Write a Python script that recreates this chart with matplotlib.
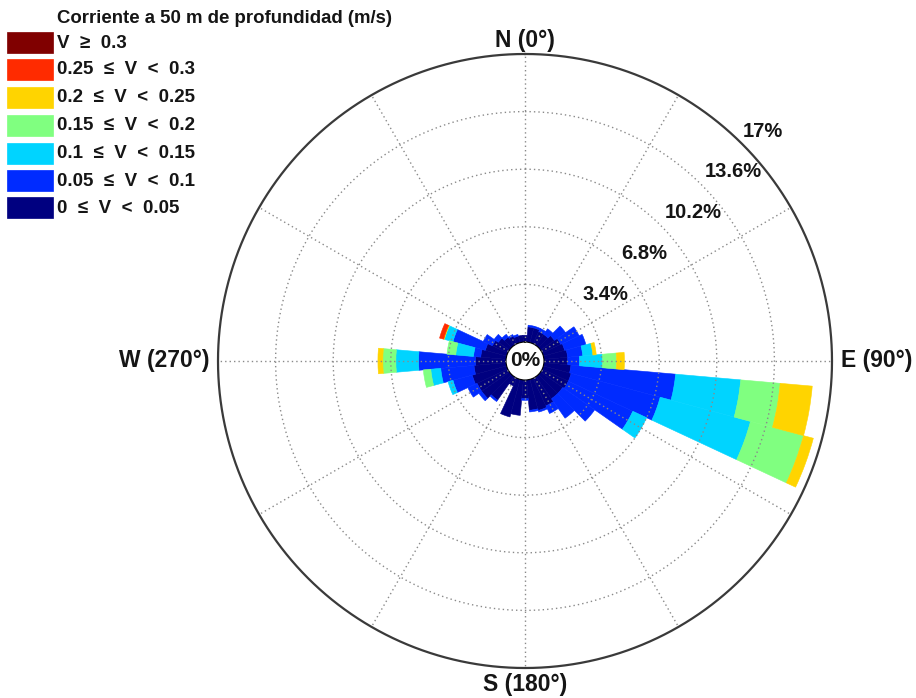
import numpy as np
import matplotlib
matplotlib.use("Agg")
import matplotlib.pyplot as plt
from matplotlib.patches import Rectangle

plt.rcParams['font.family'] = ['Liberation Sans', 'DejaVu Sans']

# ---------------- data ----------------
directions = np.arange(0, 360, 10)  # sector centres (deg, clockwise from N)

# frequency (%) per speed class and direction
v_000_005 = [0.4, 0.9, 0.9, 0.8, 0.8, 1.0, 1.2, 1.3, 1.4, 1.4, 1.6, 1.7,
             1.7, 1.6, 1.6, 1.8, 1.9, 1.8, 1.1, 2.1, 2.3, 0.5, 1.7, 2.0,
             2.0, 2.1, 1.9, 1.8, 1.5, 1.3, 1.0, 0.8, 0.6, 0.5, 0.4, 0.4]
v_005_010 = [0.0, 0.1, 0.1, 0.2, 0.4, 0.8, 1.2, 1.3, 0.9, 0.7, 6.2, 5.44,
             4.2, 2.3, 1.4, 0.5, 0.1, 0.1, 0.1, 0.0, 0.0, 0.0, 0.1, 0.2,
             0.6, 1.18, 1.97, 3.36, 0.43, 1.98, 0.6, 0.3, 0.2, 0.1, 0.1, 0.0]
v_010_015 = [0, 0, 0, 0, 0, 0, 0, 0, 0.6, 1.36, 3.86, 5.52,
             0.9, 0, 0, 0, 0, 0, 0, 0, 0, 0, 0, 0,
             0, 0.3, 0.59, 1.34, 1.05, 0.52, 0, 0, 0, 0, 0, 0]
v_015_020 = [0, 0, 0, 0, 0, 0, 0, 0, 0.0, 0.82, 2.34, 3.24,
             0, 0, 0, 0, 0, 0, 0, 0, 0, 0, 0, 0,
             0, 0, 0.44, 0.77, 0.52, 0.02, 0, 0, 0, 0, 0, 0]
v_020_025 = [0, 0, 0, 0, 0, 0, 0, 0, 0.2, 0.47, 1.9, 0.6,
             0, 0, 0, 0, 0, 0, 0, 0, 0, 0, 0, 0,
             0, 0, 0, 0.29, 0, 0.03, 0, 0, 0, 0, 0, 0]
v_025_030 = [0, 0, 0, 0, 0, 0, 0, 0, 0, 0, 0, 0,
             0, 0, 0, 0, 0, 0, 0, 0, 0, 0, 0, 0,
             0, 0, 0, 0, 0, 0.25, 0, 0, 0, 0, 0, 0]
v_030_up = [0] * 36

class_labels = ["0  \u2264  V  <  0.05", "0.05  \u2264  V  <  0.1", "0.1  \u2264  V  <  0.15",
                "0.15  \u2264  V  <  0.2", "0.2  \u2264  V  <  0.25", "0.25  \u2264  V  <  0.3",
                "V  \u2265  0.3"]
ring_values = [3.4, 6.8, 10.2, 13.6, 17]
ring_labels = ["3.4%", "6.8%", "10.2%", "13.6%", "17%"]
dir_labels = ["N (0\u00b0)", "E (90\u00b0)", "S (180\u00b0)", "W (270\u00b0)"]
title = "Corriente a 50 m de profundidad (m/s)"

series = [v_000_005, v_005_010, v_010_015, v_015_020, v_020_025, v_025_030, v_030_up]
colors = [(0.0, 0.0, 0.5), (0.0, 0.17, 1.0), (0.0, 0.83, 1.0), (0.5, 1.0, 0.5),
          (1.0, 0.83, 0.0), (1.0, 0.17, 0.0), (0.5, 0.0, 0.0)]

# ---------------- figure ----------------
W, H = 916, 698
fig = plt.figure(figsize=(W / 100, H / 100), dpi=100)
cx, cy, R = 525, 361, 307
ax = fig.add_axes([(cx - R) / W, (H - cy - R) / H, 2 * R / W, 2 * R / H],
                  projection='polar')
ax.set_theta_zero_location('N')
ax.set_theta_direction(-1)
rmax = 17
hole = 19 / (R - 19) * rmax
ax.set_rorigin(-hole)
ax.set_ylim(0, rmax)
ax.grid(False)
ax.set_xticks([])
ax.set_yticks([])
for s in ax.spines.values():
    s.set_visible(False)
ax.patch.set_alpha(0)

theta = np.deg2rad(directions)
width = np.deg2rad(10)
bottom = np.zeros(len(directions))
for vals, col in zip(series, colors):
    vals = np.asarray(vals, dtype=float)
    m = vals > 0
    if m.any():
        ax.bar(theta[m], vals[m], width=width, bottom=bottom[m], color=col,
               edgecolor=col, linewidth=0.4, zorder=2, align='center')
    bottom = bottom + vals

# grid
gridc = '#8a8a8a'
tt = np.linspace(0, 2 * np.pi, 721)
for rv in ring_values[:-1]:
    ax.plot(tt, np.full_like(tt, rv), color=gridc, lw=1.0,
            linestyle=(0, (1, 2.2)), zorder=3)
ax.plot(tt, np.full_like(tt, rmax), color='#3a3a3a', lw=1.6, zorder=4, clip_on=False)
for a in range(0, 360, 30):
    ax.plot([np.deg2rad(a)] * 2, [0, rmax], color=gridc, lw=1.0,
            linestyle=(0, (1, 2.2)), zorder=3)

txtc = '#151515'
# ring labels (placed just outside each ring, along the NE diagonal)
lab_ang = [50.5, 48.0, 48.6, 47.7, 46.0]
lab_px = [104, 161, 224, 281, 331]
for rv, lab, a, p in zip(ring_values, ring_labels, lab_ang, lab_px):
    rr = p / R * (rmax + hole) - hole
    ax.text(np.deg2rad(a), rr, lab, ha='center', va='center', fontsize=14.5,
            fontweight='bold', color=txtc, zorder=5, clip_on=False)

# centre label
ax.text(0.5, 0.5, "0%", transform=ax.transAxes, ha='center', va='center',
        fontsize=15, fontweight='bold', color=txtc, zorder=6)

# direction labels
dfs = 16.5
ax.text(0, 17.8, dir_labels[0], ha='center', va='center', fontsize=dfs,
        fontweight='bold', color=txtc, clip_on=False)
ax.text(np.pi / 2, 17.55, dir_labels[1], ha='left', va='center', fontsize=dfs,
        fontweight='bold', color=txtc, clip_on=False)
ax.text(np.pi, 17.95, dir_labels[2], ha='center', va='center', fontsize=dfs,
        fontweight='bold', color=txtc, clip_on=False)
ax.text(3 * np.pi / 2, 17.5, dir_labels[3], ha='right', va='center', fontsize=dfs,
        fontweight='bold', color=txtc, clip_on=False)

# legend
fig.text(57 / W, 1 - 23 / H, title, ha='left', va='baseline', fontsize=13.4,
         fontweight='bold', color=txtc)
tops = [32, 59, 87, 115, 143, 170, 197]
for i, top in enumerate(tops):
    k = 6 - i
    fig.patches.append(Rectangle((7 / W, 1 - (top + 21) / H), 46 / W, 21 / H,
                                 transform=fig.transFigure, facecolor=colors[k],
                                 edgecolor=colors[k], lw=0.5))
    fig.text(57 / W, 1 - (top + 11) / H, class_labels[k], ha='left', va='center',
             fontsize=13.5, fontweight='bold', color=txtc)

fig.savefig("out.png", dpi=100, facecolor='white')
